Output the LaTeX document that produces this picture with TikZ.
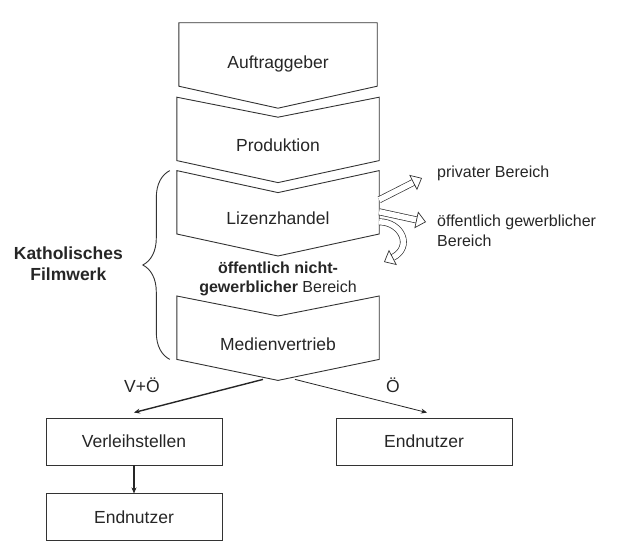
\documentclass[tikz,border=0pt]{standalone}
\usepackage{fontspec}
\setmainfont{Liberation Sans}
\usetikzlibrary{positioning,calc,arrows.meta,decorations.pathreplacing}

\begin{document}
\begin{tikzpicture}[
    x=1pt, y=-1pt,
    font=\fontsize{17.5}{21}\selectfont,
    text=black!85,
    % Styles
    phase/.style={
        rectangle,
        minimum width=202pt,
        minimum height=63pt,
        inner sep=0pt,
        text height=45pt,
        text depth=0pt
    },
    chevron/.style={draw=black!80, line width=0.9pt, line join=miter},
    kasten/.style={
        rectangle,
        draw=black!80,
        line width=0.9pt,
        minimum width=176pt,
        minimum height=47pt
    },
    seite/.style={font=\fontsize{16}{20}\selectfont, align=left, inner sep=0pt},
    % Line Styles
    hohl/.style={draw=black!80, line width=0.7pt, double=white, double distance=5.5pt, -{Triangle[open, length=10pt, width=17pt]}},
    fluss/.style={draw=black!85, line width=0.8pt, -{Stealth[length=6pt, width=5pt]}}
]
\useasboundingbox (0,0) rectangle (626,543);

% --- Chevrons ---
\node[phase, minimum width=198pt, text height=27pt] (auftrag) at (278,54.5) {Auftraggeber};
\node[phase, below=11pt of auftrag] (prod) {Produktion};
\node[phase, below=10pt of prod] (lizenz) {Lizenzhandel};
\node[phase, below=62pt of lizenz] (medien) {Medienvertrieb};

\draw[chevron] (auftrag.north west) -- (auftrag.north east) -- (auftrag.south east)
    -- ($(auftrag.south)+(0,22)$) -- (auftrag.south west) -- cycle;
\draw[chevron] (prod.north west) -- ($(prod.north)+(0,20)$) -- (prod.north east) -- (prod.south east)
    -- ($(prod.south)+(0,22)$) -- (prod.south west) -- cycle;
\draw[chevron] (lizenz.north west) -- ($(lizenz.north)+(0,22)$) -- (lizenz.north east) -- (lizenz.south east)
    -- ($(lizenz.south)+(0,22)$) -- (lizenz.south west) -- cycle;
\draw[chevron] (medien.north west) -- ($(medien.north)+(0,20)$) -- (medien.north east) -- (medien.south east)
    -- ($(medien.south)+(0,21)$) -- (medien.south west) -- cycle;

% --- Middle text ---
\node[font=\fontsize{16}{19}\selectfont, align=center, inner sep=0pt] (mitte) at (278,279)
    {\textbf{öffentlich nicht-}\\\textbf{gewerblicher} Bereich};

% --- Brace ---
\draw[draw=black!80, line width=0.9pt, decorate, decoration={brace, amplitude=27pt, aspect=0.5}]
    ([xshift=-7pt]medien.south west) -- ([xshift=-7pt]lizenz.north west);
\node[font=\fontsize{17.5}{21}\selectfont\bfseries, align=center, inner sep=0pt, anchor=east] (kfw) at (123,264)
    {Katholisches\\Filmwerk};

% --- Side labels ---
\node[seite, anchor=base west] (privat) at (437,177) {privater Bereich};
\node[seite, anchor=west] (gewerbe) at (437,231) {öffentlich gewerblicher\\Bereich};

\coordinate (spitze1) at (422,178);
\coordinate (spitze2) at (426,222);
\coordinate (spitze3) at (384,262);
\draw[hohl] ($(lizenz.east)+(0,-2.5)$) -- (spitze1);
\draw[hohl] ($(lizenz.east)+(0,9.5)$) -- (spitze2);
\draw[hohl] ($(lizenz.east)+(0,19.5)$) .. controls (402,222) and (413,247) .. (spitze3);

% --- Bottom boxes ---
\node[kasten] (verleih) at (134,441.5) {Verleihstellen};
\node[kasten, below=28pt of verleih] (endnutzer) {Endnutzer};
\node[kasten] (rechts) at (424,441.5) {Endnutzer};

\coordinate (vo) at ($(medien.south)+(-15,20)$);
\coordinate (oe) at ($(medien.south)+(17,20)$);
\draw[fluss, line width=1.4pt] (vo) -- ([yshift=5pt]verleih.north);
\draw[fluss] (oe) -- ([xshift=3pt, yshift=5pt]rechts.north);
\draw[fluss, line width=1.4pt] (verleih) -- (endnutzer);

\node (vplus) at (142,385) {V+Ö};
\node (oelabel) at (393,385) {Ö};

\end{tikzpicture}
\end{document}
